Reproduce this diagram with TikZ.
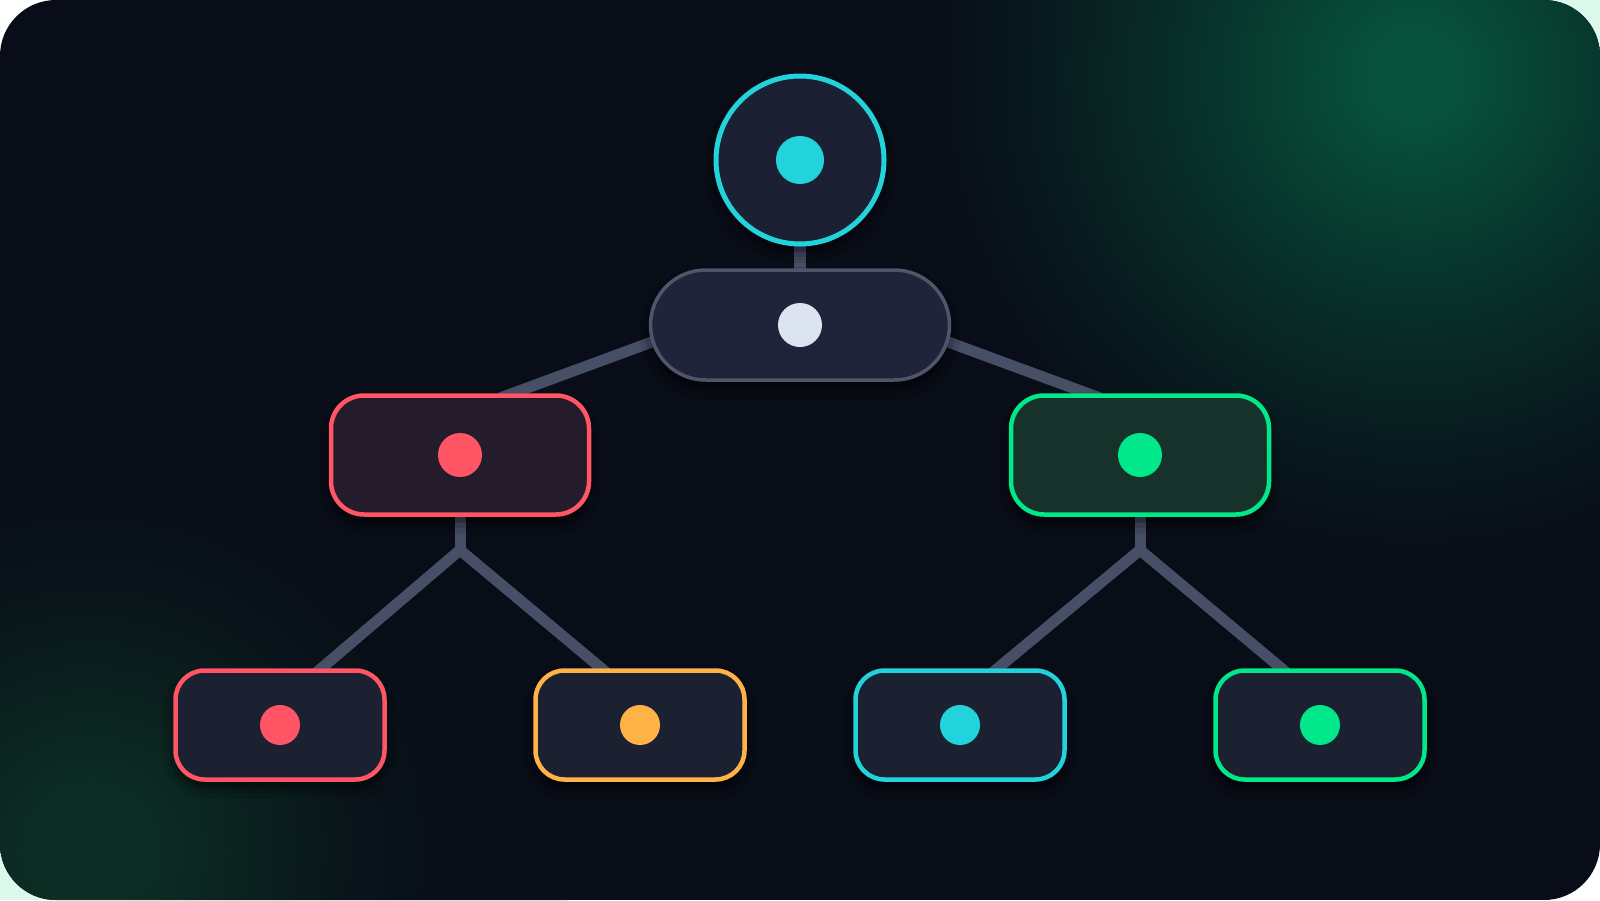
\documentclass[tikz,border=0pt]{standalone}
\usetikzlibrary{calc}
\definecolor{bgc}{HTML}{080D17}
\definecolor{glowa}{HTML}{07503A}
\definecolor{glowb}{HTML}{0C2E24}
\definecolor{mintc}{HTML}{DDF9EC}
\definecolor{connc}{HTML}{474F66}
\definecolor{rootfill}{HTML}{1B2133}
\definecolor{cyanc}{HTML}{22D3DC}
\definecolor{pillfill}{HTML}{20233A}
\definecolor{pilledge}{HTML}{4E566C}
\definecolor{pilldot}{HTML}{DCE4F0}
\definecolor{redfill}{HTML}{241C2B}
\definecolor{redc}{HTML}{FF5565}
\definecolor{greenfill}{HTML}{17322A}
\definecolor{greenc}{HTML}{00E88A}
\definecolor{leaffill}{HTML}{1B2131}
\definecolor{orangec}{HTML}{FFB347}
\pgfdeclareradialshading{glowTR}{\pgfpoint{0bp}{0bp}}{color(0bp)=(glowa); color(2bp)=(glowa); color(7bp)=(glowa!65!bgc); color(13bp)=(glowa!28!bgc); color(19bp)=(bgc); color(50bp)=(bgc)}
\pgfdeclareradialshading{glowBL}{\pgfpoint{0bp}{0bp}}{color(0bp)=(glowb); color(3bp)=(glowb); color(9bp)=(glowb!55!bgc); color(14bp)=(glowb!22!bgc); color(19bp)=(bgc); color(50bp)=(bgc)}
\tikzset{
  conn/.style={draw=connc,line width=11pt},
  softshadow/.style={
    preaction={draw=black,draw opacity=0.10,line width=22pt,transform canvas={yshift=-8pt}},
    preaction={draw=black,draw opacity=0.14,line width=10pt,transform canvas={yshift=-8pt}},
    preaction={fill=black,fill opacity=0.25,transform canvas={yshift=-8pt}}},
  rootnode/.style={circle,softshadow,fill=rootfill,draw=cyanc,line width=5pt,minimum size=168pt,inner sep=0pt},
  pillnode/.style={rectangle,rounded corners=55pt,softshadow,fill=pillfill,draw=pilledge,line width=3.5pt,minimum width=299pt,minimum height=110pt,inner sep=0pt},
  midnode/.style={rectangle,rounded corners=33pt,softshadow,line width=4.5pt,minimum width=258pt,minimum height=119pt,inner sep=0pt},
  leafnode/.style={rectangle,rounded corners=29pt,softshadow,fill=leaffill,line width=4.5pt,minimum width=209pt,minimum height=109pt,inner sep=0pt},
  dotnode/.style={circle,fill=#1,draw=none,inner sep=0pt}
}
\begin{document}
\begin{tikzpicture}[x=1pt,y=-1pt]
\useasboundingbox (0,0) rectangle (1600,900);
\fill[white] (0,0) rectangle (1600,900);
\fill[mintc] (1530,0) rectangle (1600,70);
\fill[mintc] (0,830) rectangle (70,900);
\begin{scope}
\clip[rounded corners=56pt] (0,0) rectangle (1600,900);
\fill[bgc] (0,0) rectangle (1600,900);
\shade[shading=glowTR] (1415,75) circle (640);
\shade[shading=glowBL] (90,850) circle (480);
\end{scope}

\coordinate (rootc) at (800,160);
\coordinate (pillc) at (800,325);
\coordinate (midLc) at (460,455);
\coordinate (midRc) at (1140,455);
\coordinate (jL) at (460,550);
\coordinate (jR) at (1140,550);
\coordinate (pillLout) at (660,339);
\coordinate (pillRout) at (940,339);
\coordinate (midLin) at (500,398);
\coordinate (midRin) at (1100,398);
\coordinate (leafAin) at (310,678);
\coordinate (leafBin) at (613,678);
\coordinate (leafCin) at (986,678);
\coordinate (leafDin) at (1293,678);

\draw[conn,line width=12pt] (rootc) -- (pillc);
\draw[conn] (pillLout) -- (midLin);
\draw[conn] (pillRout) -- (midRin);
\draw[conn] (midLc) -- (jL);
\draw[conn] (midRc) -- (jR);
\draw[conn,line join=miter] (leafAin) -- (jL) -- (leafBin);
\draw[conn,line join=miter] (leafCin) -- (jR) -- (leafDin);

% nodes
\node[rootnode] (root) at (rootc) {};
\node[dotnode=cyanc,minimum size=48pt] (rootdot) at (root.center) {};
\node[pillnode] (pill) at (pillc) {};
\node[dotnode=pilldot,minimum size=44pt] (pilldotn) at (pill.center) {};
\node[midnode,fill=redfill,draw=redc] (midL) at (midLc) {};
\node[dotnode=redc,minimum size=44pt] (midLdot) at (midL.center) {};
\node[midnode,fill=greenfill,draw=greenc] (midR) at (midRc) {};
\node[dotnode=greenc,minimum size=44pt] (midRdot) at (midR.center) {};
\node[leafnode,draw=redc] (leafA) at (280,725) {};
\node[dotnode=redc,minimum size=40pt] (leafAdot) at (leafA.center) {};
\node[leafnode,draw=orangec] (leafB) at (640,725) {};
\node[dotnode=orangec,minimum size=40pt] (leafBdot) at (leafB.center) {};
\node[leafnode,draw=cyanc] (leafC) at (960,725) {};
\node[dotnode=cyanc,minimum size=40pt] (leafCdot) at (leafC.center) {};
\node[leafnode,draw=greenc] (leafD) at (1320,725) {};
\node[dotnode=greenc,minimum size=40pt] (leafDdot) at (leafD.center) {};
\end{tikzpicture}
\end{document}
